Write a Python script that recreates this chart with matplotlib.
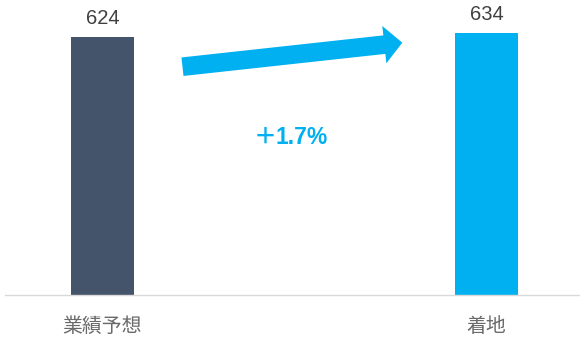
import matplotlib.pyplot as plt
from matplotlib.patches import FancyArrowPatch, ArrowStyle

plt.rcParams['font.family'] = ['Liberation Sans', 'Noto Sans CJK JP', 'DejaVu Sans']

categories = ['業績予想', '着地']
values = [624, 634]
bar_colors = ['#44546A', '#00B0F0']
change_sign = '＋'
change_value = '1.7%'

fig = plt.figure(figsize=(5.8, 3.37), dpi=100)
ax = fig.add_axes([5 / 580, 42 / 337, 575 / 580, 295 / 337])

x = list(range(len(categories)))
bars = ax.bar(x, values, width=0.165, color=bar_colors, zorder=2)

ax.set_xlim(-0.2534, 1.2428)
ax.set_ylim(0, 713.4)

# value labels above each bar
for rect, v in zip(bars, values):
    ax.annotate(f'{v}', (rect.get_x() + rect.get_width() / 2, rect.get_height()),
                xytext=(0, 13.4), textcoords='offset points',
                ha='center', va='center', fontsize=14.5, color='#404040')

ax.set_xticks(x)
ax.set_xticklabels(categories, fontsize=14.3, color='#6A6A6A',
                   family=['Noto Sans CJK JP', 'DejaVu Sans'])
ax.tick_params(axis='x', length=0, pad=14.8)
ax.set_yticks([])

for side in ['top', 'left', 'right']:
    ax.spines[side].set_visible(False)
ax.spines['bottom'].set_color('#D9D9D9')
ax.spines['bottom'].set_linewidth(1.0)

# growth arrow between the two bars
arrow = FancyArrowPatch((0.2084, 552.1), (0.7804, 610.2),
                        arrowstyle=ArrowStyle.Simple(head_length=13, head_width=27, tail_width=13.4),
                        mutation_scale=1, shrinkA=0, shrinkB=0,
                        color='#00B0F0', linewidth=0, zorder=3)
ax.add_patch(arrow)

# growth rate: full-width plus followed by the bold figure
ax.text(0.4530, 380.9, change_sign, ha='right', va='center',
        fontsize=16.5, color='#00B0F0', family=['Noto Sans CJK JP', 'DejaVu Sans'],
        fontweight='bold')
ax.text(0.4504, 380.9, change_value, ha='left', va='center',
        fontsize=16.5, color='#00B0F0', family='Liberation Sans', fontweight='bold')

fig.savefig('out.png', dpi=100)
